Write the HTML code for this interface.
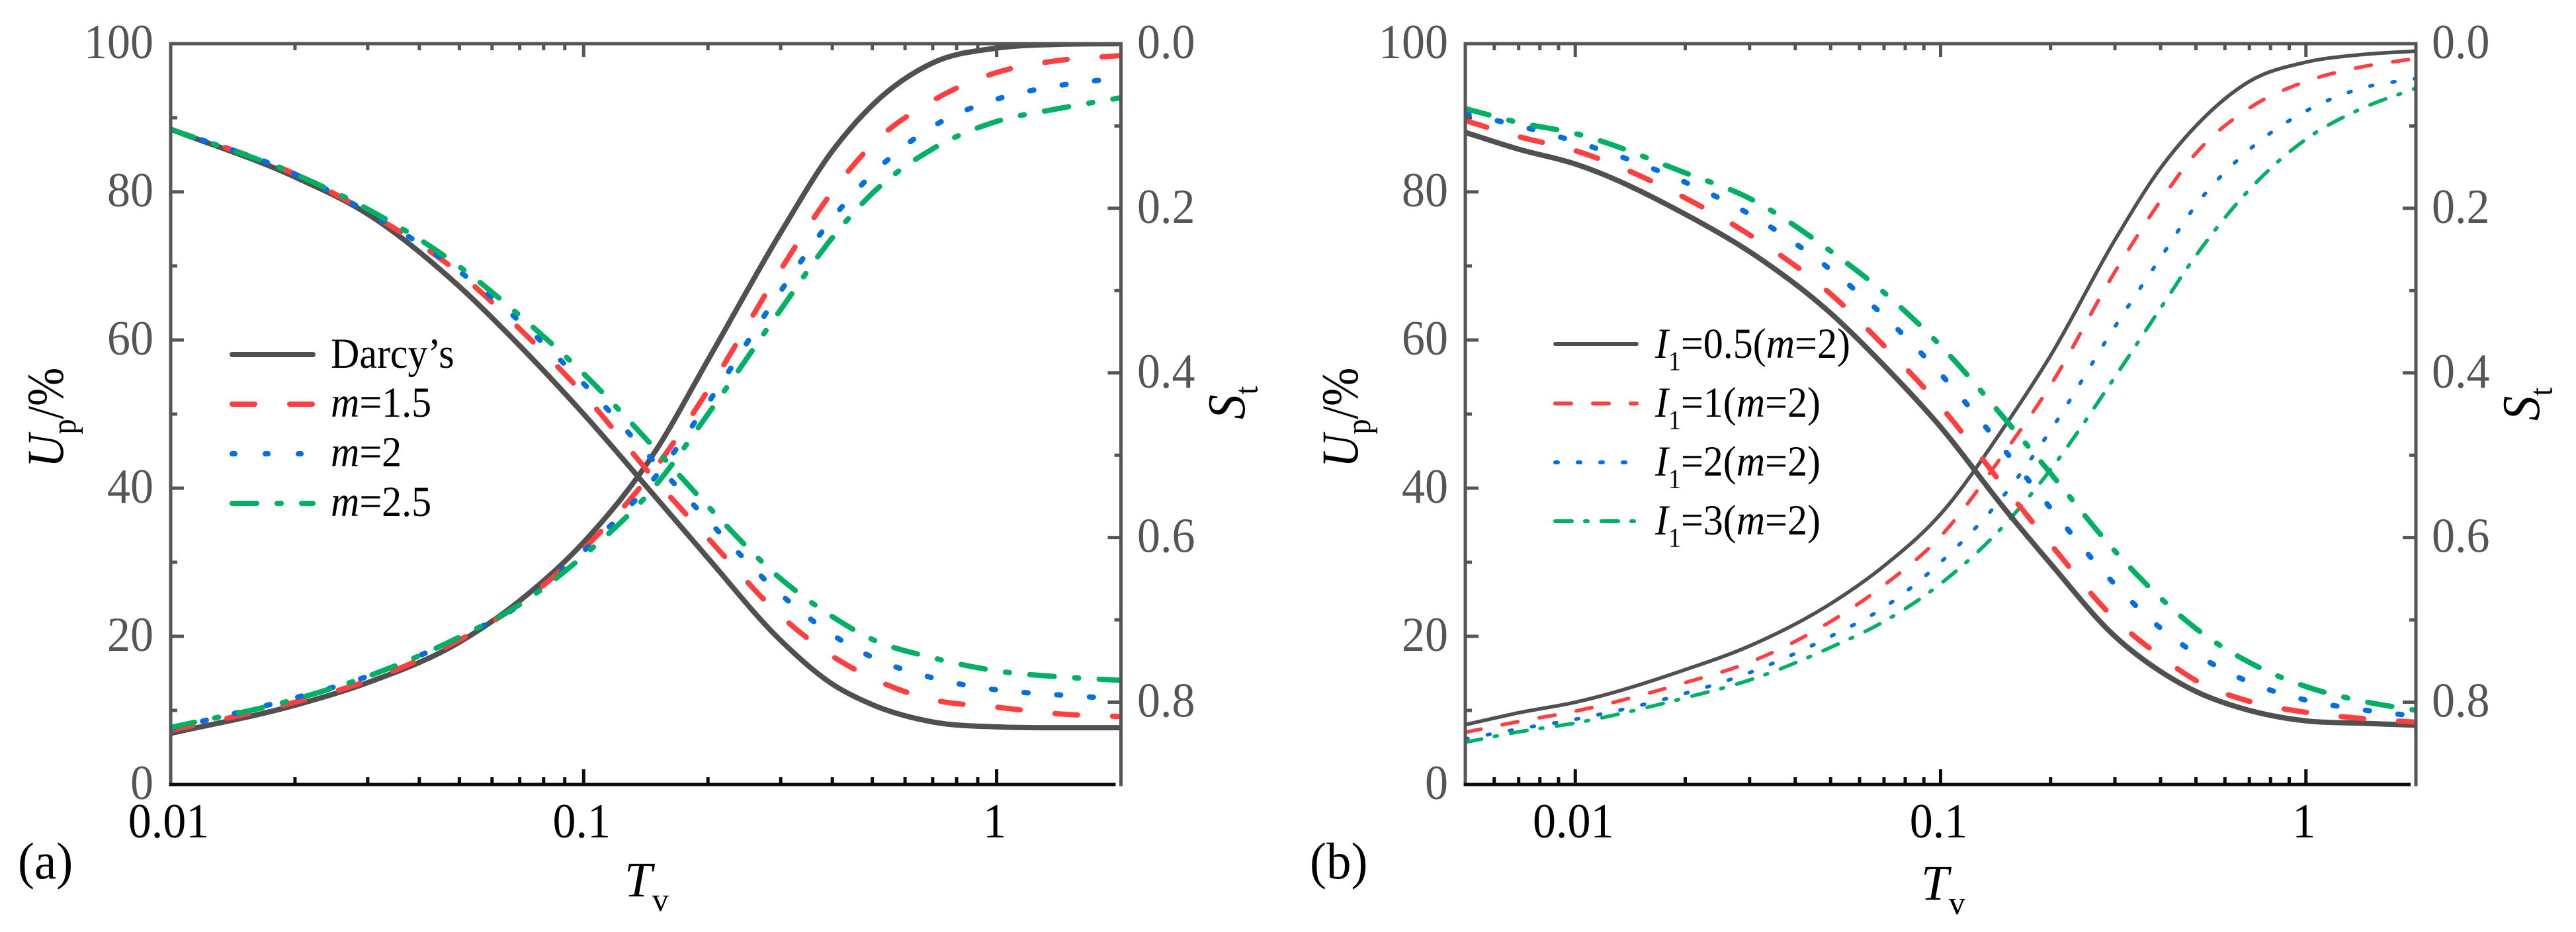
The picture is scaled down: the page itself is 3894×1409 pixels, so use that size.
<!DOCTYPE html>
<html lang="en">
<head>
<meta charset="utf-8">
<title>Consolidation curves</title>
<style>
html,body{margin:0;padding:0;background:#fff}
svg{display:block}
text{font-family:"Liberation Serif",serif}
.g{fill:#555}
.k{fill:#000}
</style>
</head>
<body>
<svg id="fig" xmlns="http://www.w3.org/2000/svg" width="3894" height="1409" viewBox="0 0 3894 1409">
<defs>
<clipPath id="clipA"><rect x="258" y="66" width="1436" height="1120"/></clipPath>
<clipPath id="clipB"><rect x="2215" y="66" width="1437" height="1120"/></clipPath>
</defs>
<g id="panelA"></g>
<g id="panelB"></g>

<text class="k" transform="translate(27,1328) scale(1,1.05)" font-size="75">(a)</text>
<text class="k" transform="translate(1980,1328) scale(1,1.05)" font-size="75">(b)</text>

<text class="k" x="944" y="1355" font-size="75"><tspan font-style="italic">T</tspan><tspan font-size="50" dy="22">v</tspan></text>
<text class="k" x="2904" y="1360" font-size="75"><tspan font-style="italic">T</tspan><tspan font-size="50" dy="22">v</tspan></text>

<text class="k" transform="translate(95,707) rotate(-90) scale(1,1.12)" font-size="70"><tspan font-style="italic">U</tspan><tspan font-size="46" dy="17">p</tspan><tspan dy="-17">/%</tspan></text>
<text class="k" transform="translate(1881,634) rotate(-90) scale(1,1.08)" font-size="75"><tspan font-style="italic">S</tspan><tspan font-size="46" dy="18">t</tspan></text>
<text class="k" transform="translate(2052,707) rotate(-90) scale(1,1.12)" font-size="70"><tspan font-style="italic">U</tspan><tspan font-size="46" dy="17">p</tspan><tspan dy="-17">/%</tspan></text>
<text class="k" transform="translate(3838,636) rotate(-90) scale(1,1.08)" font-size="75"><tspan font-style="italic">S</tspan><tspan font-size="46" dy="18">t</tspan></text>

<g font-size="60" class="k">
  <line x1="351" x2="473" y1="536" y2="536" stroke="#505050" stroke-width="8" stroke-linecap="round"/>
  <text transform="translate(500,556) scale(1,1.08)">Darcy’s</text>
  <line x1="351" x2="473" y1="611" y2="611" stroke="#ff3f3f" stroke-width="8" stroke-linecap="round" stroke-dasharray="34 53"/>
  <text transform="translate(500,630) scale(1,1.08)"><tspan font-style="italic">m</tspan>=1.5</text>
  <line x1="351" x2="473" y1="686" y2="686" stroke="#0070e0" stroke-width="8" stroke-linecap="round" stroke-dasharray="4 46"/>
  <text transform="translate(500,705) scale(1,1.08)"><tspan font-style="italic">m</tspan>=2</text>
  <line x1="351" x2="473" y1="761" y2="761" stroke="#00b064" stroke-width="8" stroke-linecap="round" stroke-dasharray="37 31 6 31"/>
  <text transform="translate(500,780) scale(1,1.08)"><tspan font-style="italic">m</tspan>=2.5</text>
</g>

<g font-size="60" class="k">
  <line x1="2351" x2="2474" y1="520" y2="520" stroke="#505050" stroke-width="6" stroke-linecap="round"/>
  <text transform="translate(2502,541) scale(1,1.08)"><tspan font-style="italic">I</tspan><tspan font-size="38" dy="17">1</tspan><tspan dy="-17">=0.5(</tspan><tspan font-style="italic">m</tspan>=2)</text>
  <line x1="2351" x2="2474" y1="610" y2="610" stroke="#ff3f3f" stroke-width="6" stroke-linecap="round" stroke-dasharray="24 33"/>
  <text transform="translate(2502,630) scale(1,1.08)"><tspan font-style="italic">I</tspan><tspan font-size="38" dy="17">1</tspan><tspan dy="-17">=1(</tspan><tspan font-style="italic">m</tspan>=2)</text>
  <line x1="2351" x2="2474" y1="699" y2="699" stroke="#0070e0" stroke-width="6" stroke-linecap="round" stroke-dasharray="4 30"/>
  <text transform="translate(2502,719) scale(1,1.08)"><tspan font-style="italic">I</tspan><tspan font-size="38" dy="17">1</tspan><tspan dy="-17">=2(</tspan><tspan font-style="italic">m</tspan>=2)</text>
  <line x1="2351" x2="2474" y1="788" y2="788" stroke="#00b064" stroke-width="6" stroke-linecap="round" stroke-dasharray="25 20 4 21"/>
  <text transform="translate(2502,808) scale(1,1.08)"><tspan font-style="italic">I</tspan><tspan font-size="38" dy="17">1</tspan><tspan dy="-17">=3(</tspan><tspan font-style="italic">m</tspan>=2)</text>
</g>
</svg>

<script>
// ---------- Shared axis data ----------
const upTickValues = [0, 20, 40, 60, 80, 100];
const upTickMinor = [10, 30, 50, 70, 90];
const stTickValues = [0, 0.2, 0.4, 0.6, 0.8];
const stTickLabels = ['0.0', '0.2', '0.4', '0.6', '0.8'];
const stTickMinor = [0.1, 0.3, 0.5, 0.7];

// ---------- Panel (a) data ----------
const aTv = [0.01, 0.02, 0.03, 0.05, 0.07, 0.1, 0.15, 0.2, 0.3, 0.4, 0.5, 0.7, 1, 1.4, 2];
const aUpDarcy = [6.9, 10.7, 13.75, 19.2, 24.8, 32.7, 45.2, 57.3, 74.5, 85.5, 91.7, 97.4, 99.4, 99.9, 100];
const aUpM15 = [7.3, 11.1, 14, 19.5, 24.4, 31.8, 42.9, 53.2, 69.5, 80, 86.4, 92.3, 96.1, 97.7, 98.4];
const aUpM2 = [7.5, 11.7, 14.6, 19.9, 24.2, 31.5, 41.7, 51.5, 66.6, 76.4, 82.4, 88.8, 92.5, 94.3, 95.4];
const aUpM25 = [7.7, 11.5, 14.6, 19.9, 24.3, 30.9, 40.5, 50, 64.1, 73.8, 79.8, 85.8, 89.5, 91.2, 92.7];
const aStDarcy = [0.104, 0.162, 0.207, 0.295, 0.367, 0.450, 0.552, 0.625, 0.725, 0.778, 0.803, 0.824, 0.830, 0.831, 0.831];
const aStM15 = [0.104, 0.1585, 0.205, 0.279, 0.3465, 0.426, 0.5316, 0.6007, 0.695, 0.744, 0.771, 0.797, 0.806, 0.814, 0.8175];
const aStM2 = [0.104, 0.1585, 0.2047, 0.2766, 0.3375, 0.413, 0.5107, 0.579, 0.669, 0.718, 0.7455, 0.7705, 0.785, 0.791, 0.796];
const aStM25 = [0.104, 0.1585, 0.201, 0.2708, 0.3303, 0.401, 0.4937, 0.562, 0.65, 0.696, 0.7237, 0.746, 0.762, 0.769, 0.7735];
const aXMajor = [0.01, 0.1, 1];
const aXMajorLabels = ['0.01', '0.1', '1'];
const aXMinor = [0.02, 0.03, 0.04, 0.05, 0.06, 0.07, 0.08, 0.09, 0.2, 0.3, 0.4, 0.5, 0.6, 0.7, 0.8, 0.9, 2];

// ---------- Panel (b) data ----------
const bTv = [0.005, 0.007, 0.01, 0.02, 0.03, 0.05, 0.07, 0.1, 0.15, 0.2, 0.3, 0.4, 0.5, 0.7, 1, 1.4, 2];
const bUpI05 = [8.07, 9.68, 11.1, 15.5, 18.7, 24.4, 29.5, 36.5, 48.4, 57.9, 73.5, 83.2, 88.9, 94.9, 97.5, 98.5, 99];
const bUpI1 = [7.05, 8.5, 9.9, 13.75, 16.5, 22, 26.9, 33.5, 44.9, 53.9, 69.2, 78.8, 85.2, 91.3, 94.9, 96.8, 98];
const bUpI2 = [6.15, 7.5, 8.8, 12.3, 15.1, 20, 23.9, 30, 39.2, 47.8, 61.8, 71.1, 78.2, 85.7, 90.9, 93.9, 95.3];
const bUpI3 = [5.7, 7.1, 8.3, 11.7, 14.1, 18.5, 22, 27.1, 35.1, 42.5, 55, 64.3, 71.4, 80.3, 87.1, 91.1, 94];
const bStI05 = [0.1078, 0.1282, 0.1462, 0.2072, 0.2527, 0.3274, 0.391, 0.4657, 0.5655, 0.6317, 0.72, 0.7627, 0.787, 0.81, 0.8227, 0.8255, 0.828];
const bStI1 = [0.0935, 0.1129, 0.13, 0.1875, 0.2322, 0.304, 0.367, 0.4405, 0.5396, 0.608, 0.699, 0.7443, 0.7737, 0.799, 0.8123, 0.8195, 0.8243];
const bStI2 = [0.0852, 0.0997, 0.119, 0.1684, 0.2072, 0.2747, 0.331, 0.4013, 0.4944, 0.5643, 0.657, 0.710, 0.7413, 0.7757, 0.7975, 0.8087, 0.817];
const bStI3 = [0.0789, 0.0958, 0.1092, 0.157, 0.188, 0.252, 0.3024, 0.367, 0.456, 0.522, 0.6164, 0.6735, 0.7105, 0.7517, 0.781, 0.798, 0.81];
const bXMajor = [0.01, 0.1, 1];
const bXMajorLabels = ['0.01', '0.1', '1'];
const bXMinor = [0.006, 0.007, 0.008, 0.009, 0.02, 0.03, 0.04, 0.05, 0.06, 0.07, 0.08, 0.09, 0.2, 0.3, 0.4, 0.5, 0.6, 0.7, 0.8, 0.9, 2];

const SVGNS = 'http://www.w3.org/2000/svg';
const DARK = '#505050', RED = '#ff3f3f', BLUE = '#0070e0', GREEN = '#00b064', AXIS = '#555555', BLACK = '#0c0c0c';

// Non-uniform Catmull-Rom path through screen points, with clamped tangents
function smoothPath(pts) {
  const n = pts.length, dx = [], m = [], t = [];
  for (let i = 0; i < n - 1; i++) {
    dx[i] = pts[i + 1][0] - pts[i][0];
    m[i] = (pts[i + 1][1] - pts[i][1]) / dx[i];
  }
  t[0] = m[0];
  t[n - 1] = m[n - 2];
  for (let i = 1; i < n - 1; i++) {
    if (m[i - 1] * m[i] <= 0) { t[i] = 0; continue; }
    const c = (m[i - 1] * dx[i] + m[i] * dx[i - 1]) / (dx[i] + dx[i - 1]);
    const lim = 3 * Math.min(Math.abs(m[i - 1]), Math.abs(m[i]));
    t[i] = Math.sign(c) * Math.min(Math.abs(c), lim);
  }
  let d = 'M' + pts[0][0].toFixed(2) + ' ' + pts[0][1].toFixed(2);
  for (let i = 0; i < n - 1; i++) {
    const h = dx[i] / 3;
    d += 'C' + (pts[i][0] + h).toFixed(2) + ' ' + (pts[i][1] + t[i] * h).toFixed(2) + ' ' +
      (pts[i + 1][0] - h).toFixed(2) + ' ' + (pts[i + 1][1] - t[i + 1] * h).toFixed(2) + ' ' +
      pts[i + 1][0].toFixed(2) + ' ' + pts[i + 1][1].toFixed(2);
  }
  return d;
}

function drawTick(parent, x1, y1, x2, y2, color, name) {
  const el = document.createElementNS(SVGNS, 'line');
  el.setAttribute('x1', x1);
  el.setAttribute('y1', y1);
  el.setAttribute('x2', x2);
  el.setAttribute('y2', y2);
  el.setAttribute('stroke', color);
  el.setAttribute('stroke-width', 5);
  
  
  parent.appendChild(el);
}

function drawLabel(parent, x, y, str, anchor, cls, name) {
  const el = document.createElementNS(SVGNS, 'text');
  el.setAttribute('transform', 'translate(' + x + ',' + y + ') scale(1,1.06)');
  el.setAttribute('text-anchor', anchor);
  el.setAttribute('class', cls);
  el.setAttribute('font-size', 70);
  el.textContent = str;
  
  
  parent.appendChild(el);
}

function drawCurve(parent, tv, vals, sx, sy, color, width, dash, clipId, name) {
  const pts = tv.map((t, i) => [sx(t), sy(vals[i])]);
  const el = document.createElementNS(SVGNS, 'path');
  el.setAttribute('d', smoothPath(pts));
  el.setAttribute('fill', 'none');
  el.setAttribute('stroke', color);
  el.setAttribute('stroke-width', width);
  el.setAttribute('stroke-linecap', dash ? 'round' : 'butt');
  if (dash) el.setAttribute('stroke-dasharray', dash);
  el.setAttribute('clip-path', 'url(#' + clipId + ')');
  
  
  parent.appendChild(el);
}

function drawAxes(g, L, R, T, B, sx, xMajor, xLabels, xMinor, leftLabelX, rightLabelX) {
  const up = v => B - (v / 100) * (B - T);
  const st = v => T + (v / 0.9) * (B - T);
  upTickValues.forEach(v => {
    drawTick(g, L, up(v), L + 20, up(v), AXIS, 'left-major-tick');
    drawLabel(g, leftLabelX, up(v) + 22, String(v), 'end', 'g', 'left-tick-label');
  });
  upTickMinor.forEach(v => drawTick(g, L, up(v), L + 10, up(v), AXIS, 'left-minor-tick'));
  stTickValues.forEach((v, i) => {
    drawTick(g, R, st(v), R - 20, st(v), AXIS, 'right-major-tick');
    drawLabel(g, rightLabelX, st(v) + 22, stTickLabels[i], 'start', 'g', 'right-tick-label');
  });
  stTickMinor.forEach(v => drawTick(g, R, st(v), R - 10, st(v), AXIS, 'right-minor-tick'));
  xMajor.forEach((v, i) => {
    drawTick(g, sx(v), T, sx(v), T + 20, AXIS, 'top-major-tick');
    drawTick(g, sx(v), B, sx(v), B - 23, BLACK, 'bottom-major-tick');
    drawLabel(g, sx(v) - 3, 1266, xLabels[i], 'middle', 'k', 'x-tick-label');
  });
  xMinor.forEach(v => {
    if (sx(v) > R - 4) return;
    drawTick(g, sx(v), T, sx(v), T + 10, AXIS, 'top-minor-tick');
    drawTick(g, sx(v), B, sx(v), B - 11, BLACK, 'bottom-minor-tick');
  });
  drawTick(g, L - 2.5, T, R + 2.5, T, AXIS, 'top-axis-line');
  drawTick(g, L, T - 2.5, L, B + 2.5, AXIS, 'left-axis-line');
  drawTick(g, R, T - 2.5, R, B + 2.5, AXIS, 'right-axis-line');
  drawTick(g, L - 2.5, B, R - 8, B, BLACK, 'bottom-axis-line');
}

// Panel (a)
(function () {
  const g = document.getElementById('panelA');
  const L = 258, R = 1694.5, T = 66, B = 1186, x0 = 0.01, x1 = 2;
  const sx = v => L + (Math.log10(v / x0) / Math.log10(x1 / x0)) * (R - L);
  const up = v => B - (v / 100) * (B - T);
  const st = v => T + (v / 0.9) * (B - T);
  const dashRed = '34 53', dashBlue = '6 43.5', dashGreen = '37 31 6 31';
  drawCurve(g, aTv, aStDarcy, sx, st, DARK, 8, null, 'clipA', 'settlement-darcy');
  drawCurve(g, aTv, aUpDarcy, sx, up, DARK, 8, null, 'clipA', 'consolidation-darcy');
  drawCurve(g, aTv, aStM15, sx, st, RED, 8, dashRed, 'clipA', 'settlement-m-1-5');
  drawCurve(g, aTv, aUpM15, sx, up, RED, 8, dashRed, 'clipA', 'consolidation-m-1-5');
  drawCurve(g, aTv, aStM2, sx, st, BLUE, 8, dashBlue, 'clipA', 'settlement-m-2');
  drawCurve(g, aTv, aUpM2, sx, up, BLUE, 8, dashBlue, 'clipA', 'consolidation-m-2');
  drawCurve(g, aTv, aStM25, sx, st, GREEN, 8, dashGreen, 'clipA', 'settlement-m-2-5');
  drawCurve(g, aTv, aUpM25, sx, up, GREEN, 8, dashGreen, 'clipA', 'consolidation-m-2-5');
  drawAxes(g, L, R, T, B, sx, aXMajor, aXMajorLabels, aXMinor, 232, 1719);
})();

// Panel (b)
(function () {
  const g = document.getElementById('panelB');
  const L = 2215, R = 3652, T = 66, B = 1186, x0 = 0.005, x1 = 2;
  const sx = v => L + (Math.log10(v / x0) / Math.log10(x1 / x0)) * (R - L);
  const up = v => B - (v / 100) * (B - T);
  const st = v => T + (v / 0.9) * (B - T);
  drawCurve(g, bTv, bUpI05, sx, up, DARK, 5.5, null, 'clipB', 'consolidation-i1-0-5');
  drawCurve(g, bTv, bUpI1, sx, up, RED, 5.5, '24 33', 'clipB', 'consolidation-i1-1');
  drawCurve(g, bTv, bUpI2, sx, up, BLUE, 5.5, '4 30', 'clipB', 'consolidation-i1-2');
  drawCurve(g, bTv, bUpI3, sx, up, GREEN, 5.5, '25 20 4 21', 'clipB', 'consolidation-i1-3');
  drawCurve(g, bTv, bStI05, sx, st, DARK, 8, null, 'clipB', 'settlement-i1-0-5');
  drawCurve(g, bTv, bStI1, sx, st, RED, 8, '34 53', 'clipB', 'settlement-i1-1');
  drawCurve(g, bTv, bStI2, sx, st, BLUE, 8, '6 43.5', 'clipB', 'settlement-i1-2');
  drawCurve(g, bTv, bStI3, sx, st, GREEN, 8, '37 31 6 31', 'clipB', 'settlement-i1-3');
  drawAxes(g, L, R, T, B, sx, bXMajor, bXMajorLabels, bXMinor, 2189, 3676);
})();
</script>
</body>
</html>
